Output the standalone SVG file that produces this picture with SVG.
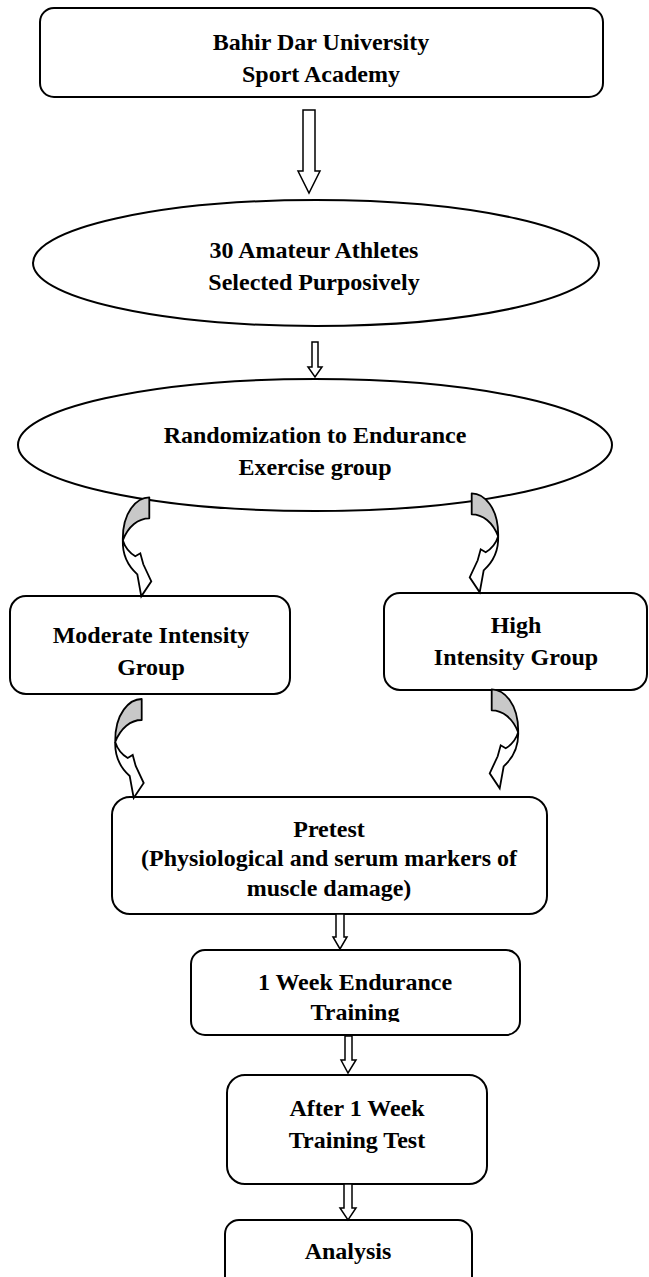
<svg xmlns="http://www.w3.org/2000/svg" width="649" height="1277" viewBox="0 0 649 1277">
<style>
.box{fill:#fff;stroke:#000;stroke-width:2}
.t{font-family:"Liberation Serif","Times New Roman",serif;font-weight:bold;font-size:24px;fill:#000;text-anchor:middle}
.arr{fill:#fff;stroke:#000;stroke-width:1.5;stroke-linejoin:miter}
.back{fill:#c8c8c8;stroke:#000;stroke-width:1.8;stroke-linejoin:round}
.front{fill:#fff;stroke:#000;stroke-width:1.8;stroke-linejoin:miter}
</style>
<defs>
<g id="curveL">
<path class="back" d="M0,0 C-12,0 -27,14 -26.5,43 C-21,29 -11,21 0,21 Z"/>
<path class="front" d="M-26.5,43 C-27,58 -21,69 -12,77 L-8,99 L2,84 L-6,67 L-9,56 L-14,59 C-19,56 -24,51 -26.5,43 Z"/>
</g>
<clipPath id="clipWeek"><rect x="191" y="950" width="329" height="72"/></clipPath>
</defs>
<rect width="649" height="1277" fill="#fff"/>
<g id="n1">
<rect class="box" x="40" y="8" width="563" height="89" rx="14"/>
<text class="t" x="321" y="50">Bahir Dar University</text>
<text class="t" x="321" y="82">Sport Academy</text>
</g>
<g id="n2">
<ellipse class="box" cx="316" cy="263" rx="283" ry="63"/>
<text class="t" x="314" y="258">30 Amateur Athletes</text>
<text class="t" x="314" y="290">Selected Purposively</text>
</g>
<g id="n3">
<ellipse class="box" cx="315" cy="445" rx="297" ry="66"/>
<text class="t" x="315" y="443">Randomization to Endurance</text>
<text class="t" x="315" y="475">Exercise group</text>
</g>
<g id="n4">
<rect class="box" x="10" y="596" width="280" height="98" rx="16"/>
<text class="t" x="151" y="643">Moderate Intensity</text>
<text class="t" x="151" y="675">Group</text>
</g>
<g id="n5">
<rect class="box" x="384" y="593" width="263" height="97" rx="16"/>
<text class="t" x="516" y="633">High</text>
<text class="t" x="516" y="665">Intensity Group</text>
</g>
<g id="n6">
<rect class="box" x="112" y="797" width="435" height="117" rx="18"/>
<text class="t" x="329" y="837">Pretest</text>
<text class="t" x="329" y="866">(Physiological and serum markers of</text>
<text class="t" x="329" y="896">muscle damage)</text>
</g>
<g id="n7">
<rect class="box" x="191" y="950" width="329" height="85" rx="14"/>
<text class="t" x="355" y="990">1 Week Endurance</text>
<text class="t" x="355" y="1020" clip-path="url(#clipWeek)">Training</text>
</g>
<g id="n8">
<rect class="box" x="227" y="1075" width="260" height="109" rx="18"/>
<text class="t" x="357" y="1116">After 1 Week</text>
<text class="t" x="357" y="1148">Training Test</text>
</g>
<g id="n9">
<rect class="box" x="225" y="1220" width="247" height="75" rx="14"/>
<text class="t" x="348" y="1259">Analysis</text>
</g>
<g id="connectors">
<path class="arr" d="M303,110 H315 V171 H320 L309,193 L298,171 H303 Z"/>
<path class="arr" d="M312,342 H318 V367 H322 L315,377 L308,367 H312 Z"/>
<path class="arr" d="M336,914 H344 V937 H347 L340,949 L333,937 H336 Z"/>
<path class="arr" d="M345,1036 H352 V1060 H356 L348,1073 L341,1060 H345 Z"/>
<path class="arr" d="M344,1184 H352 V1208 H356 L348,1220 L340,1208 H344 Z"/>
<use href="#curveL" transform="translate(149.3,497.3)"/>
<use href="#curveL" transform="translate(141.7,699)"/>
<use href="#curveL" transform="translate(471.7,493.3) scale(-1,1)"/>
<use href="#curveL" transform="translate(491.7,689.3) scale(-1,1)"/>
</g>
</svg>
